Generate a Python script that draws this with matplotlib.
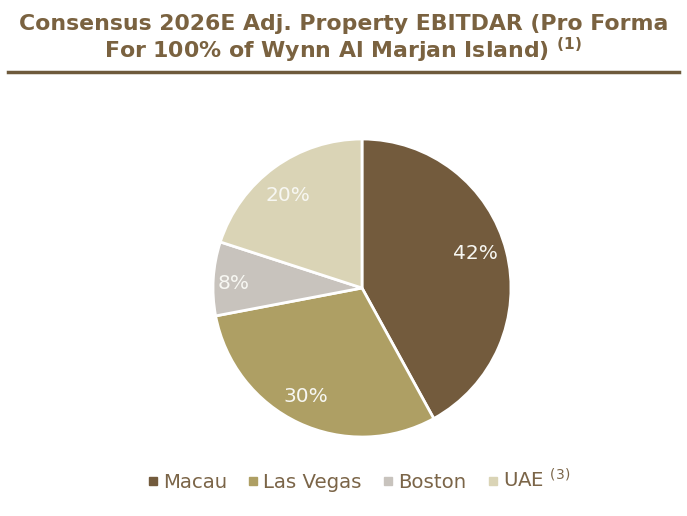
import matplotlib
matplotlib.use("Agg")
from matplotlib import pyplot as plt
from matplotlib.lines import Line2D

# data
regions = ['Macau', 'Las Vegas', 'Boston', 'UAE']
shares = [42, 30, 8, 20]
colors = ['#735B3D', '#AE9F64', '#C8C3BD', '#DAD4B6']
legendLabels = ['Macau', 'Las Vegas', 'Boston', 'UAE $^{\\mathregular{(3)}}$']

W, H = 687, 516
fig = plt.figure(figsize=(W/100, H/100), dpi=100)
brown = '#7A6240'

# title + rule
fig.text(0.5, 1-24/H, 'Consensus 2026E Adj. Property EBITDAR (Pro Forma', ha='center', va='center',
         fontsize=15.8, fontweight='bold', color=brown)
fig.text(0.5, 1-50/H, 'For 100% of Wynn Al Marjan Island) $^{\\mathregular{(1)}}$', ha='center', va='center',
         fontsize=15.8, fontweight='bold', color=brown)
fig.add_artist(Line2D([8/W, 679/W], [1-72/H, 1-72/H], color='#6E5A3C', lw=2.5))

# pie
cx, cy, r = 362, 288, 149
ax = fig.add_axes([(cx-r)/W, (H-cy-r)/H, 2*r/W, 2*r/H])
wedges, texts, autotexts = ax.pie(shares, colors=colors, startangle=90, counterclock=False,
                                  radius=1, autopct='%d%%', pctdistance=0.8,
                                  wedgeprops=dict(edgecolor='white', linewidth=2),
                                  textprops=dict(color='#F7F7F2', fontsize=14.5))
autotexts[0].set_position((0.76, 0.23))
autotexts[1].set_position((-0.38, -0.73))
autotexts[2].set_position((-0.86, 0.03))
autotexts[3].set_position((-0.50, 0.62))
ax.set_xlim(-1, 1)
ax.set_ylim(-1, 1)
ax.axis('off')

# legend
handles = [Line2D([], [], marker='s', ls='', color=c, markersize=6) for c in colors]
fig.legend(handles, legendLabels, loc='center', bbox_to_anchor=(358/W, 1-480/H), ncol=4,
           frameon=False, fontsize=14.2, labelcolor='#7B6548', handletextpad=0.15, columnspacing=1.0,
           handlelength=0.7)

fig.savefig('out.png', dpi=100)
